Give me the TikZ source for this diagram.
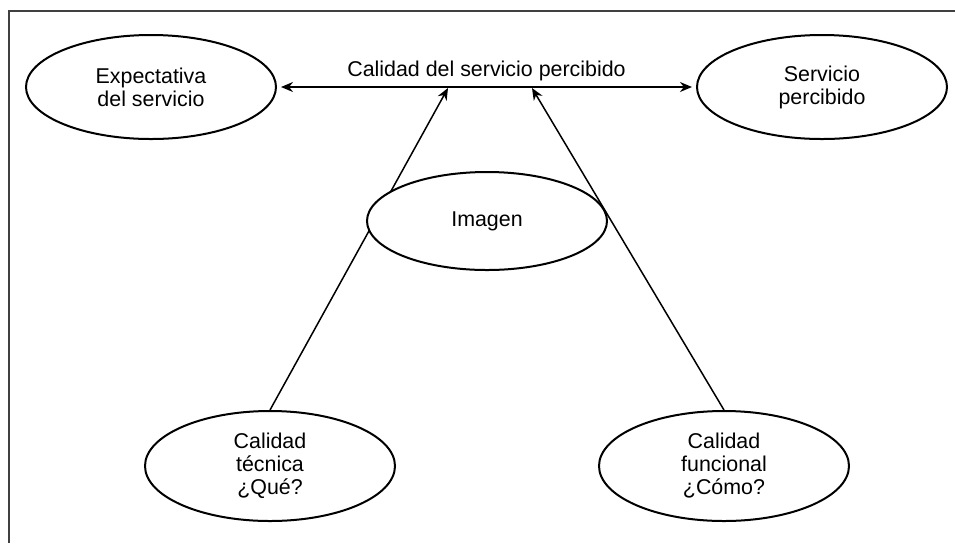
\documentclass[tikz,border=0pt]{standalone}
\usepackage{fontspec}
\setmainfont{Liberation Sans}
\usetikzlibrary{arrows.meta}
\usetikzlibrary{shapes.geometric}

\tikzset{
  elipse/.style={draw, ellipse, line width=1pt, inner sep=0pt, align=center,
    minimum width=125pt, minimum height=52pt, font=\fontsize{10.7}{11.5}\selectfont},
  punta/.style={-{Stealth[length=6pt,width=5pt]}, line width=0.75pt},
}

\begin{document}
\begin{tikzpicture}[x=0.5pt,y=-0.5pt]
\useasboundingbox (0,0) rectangle (955,543);
\draw[line width=1.3pt, black!75] (9,543) -- (9,11) -- (955,11);
\node[elipse] (expectativa) at (151,87) {Expectativa\\del servicio};
\node[elipse] (percibido) at (822,87) {Servicio\\percibido};
\node[elipse, minimum height=55pt] (tecnica) at (270,466) {Calidad\\técnica\\¿Qué?};
\node[elipse, minimum height=55pt] (funcional) at (724,466) {Calidad\\funcional\\¿Cómo?};
\coordinate (puntaA) at (448,88);
\coordinate (puntaB) at (532,88);
\draw[{Stealth[length=6pt,width=5pt]}-{Stealth[length=6pt,width=5pt]}, line width=0.75pt, shorten <=2pt, shorten >=2pt]
  (expectativa) -- node[above, inner sep=2.8pt, font=\fontsize{10.7}{11.5}\selectfont] (calidad) {Calidad del servicio percibido} (percibido);
\draw[punta] (tecnica.north) -- (puntaA);
\draw[punta] (funcional.north) -- (puntaB);
\node[elipse, fill=white, minimum width=120pt, minimum height=49pt] (imagen) at (487,221) {Imagen};
\end{tikzpicture}
\end{document}
